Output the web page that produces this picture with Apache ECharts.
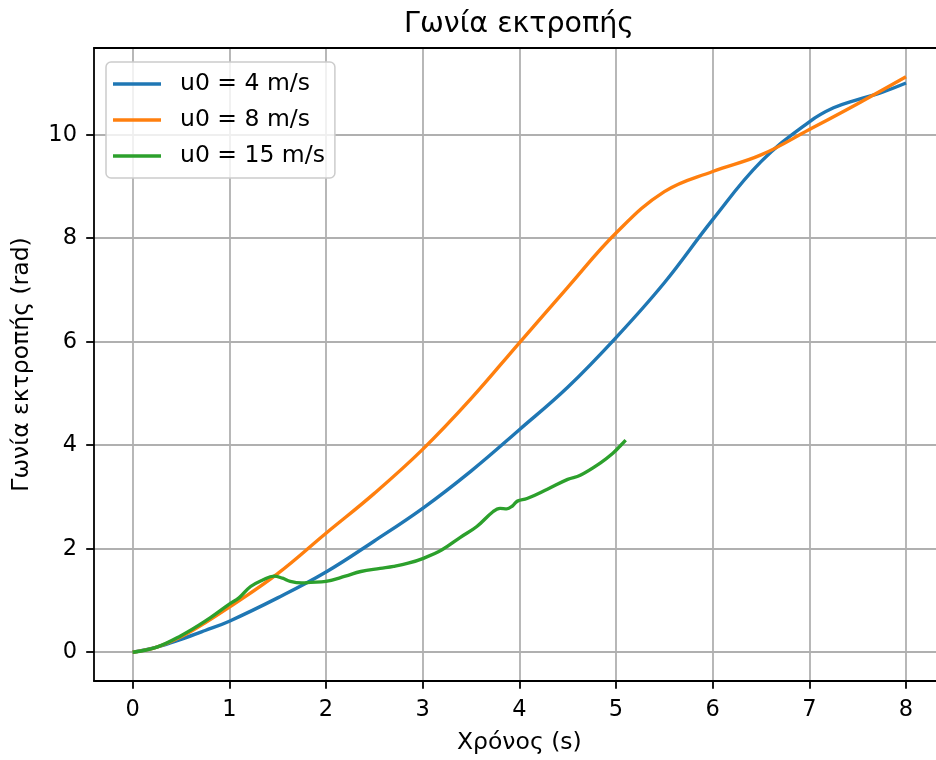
<!DOCTYPE html>
<html>
<head>
<meta charset="utf-8">
<script src="https://cdn.jsdelivr.net/npm/echarts@6/dist/echarts.min.js"></script>
<style>
  html, body { margin: 0; padding: 0; background: #ffffff; overflow: hidden; width: 936px; height: 760px; }
  #chart { width: 946px; height: 760px; }
</style>
</head>
<body>
<div id="chart"></div>
<script>
// Deflection angle vs time for three launch speeds
const titleText = 'Γωνία εκτροπής';
const xLabel = 'Χρόνος (s)';
const yLabel = 'Γωνία εκτροπής (rad)';

const seriesNames = ['u0 = 4 m/s', 'u0 = 8 m/s', 'u0 = 15 m/s'];

const tA = [0, 0.25, 0.5, 0.75, 1, 1.5, 2, 2.5, 3, 3.5, 4, 4.5, 5, 5.5, 6, 6.5, 7, 7.25, 7.5, 7.75, 8];
const angleA = [0, 0.1, 0.25, 0.42, 0.6, 1.05, 1.55, 2.15, 2.78, 3.5, 4.3, 5.12, 6.08, 7.14, 8.36, 9.48, 10.25, 10.52, 10.68, 10.82, 11.0];

const tB = [0, 0.25, 0.5, 0.75, 1, 1.5, 2, 2.5, 3, 3.5, 4, 4.5, 5, 5.5, 6, 6.5, 7, 7.5, 8];
const angleB = [0, 0.1, 0.3, 0.57, 0.87, 1.52, 2.3, 3.07, 3.92, 4.9, 5.98, 7.05, 8.1, 8.9, 9.29, 9.61, 10.1, 10.6, 11.12];

const tC = [0, 0.25, 0.5, 0.75, 1.0, 1.1, 1.22, 1.35, 1.46, 1.55, 1.63, 1.75, 1.84, 2.0, 2.2, 2.36, 2.56, 2.7, 2.85, 3.0, 3.2, 3.39, 3.56, 3.73, 3.8, 3.87, 3.93, 3.98, 4.08, 4.29, 4.5, 4.63, 4.84, 4.97, 5.04, 5.1];
const angleC = [0, 0.1, 0.32, 0.6, 0.93, 1.05, 1.27, 1.4, 1.47, 1.43, 1.37, 1.34, 1.35, 1.37, 1.47, 1.56, 1.62, 1.66, 1.72, 1.81, 1.98, 2.22, 2.43, 2.72, 2.78, 2.77, 2.83, 2.92, 2.97, 3.15, 3.34, 3.42, 3.66, 3.85, 3.98, 4.1];

const xTicks = [0, 1, 2, 3, 4, 5, 6, 7, 8];
const yTicks = [0, 2, 4, 6, 8, 10];

const colors = ['#1f77b4', '#ff7f0e', '#2ca02c'];
const FONT = "'DejaVu Sans', 'Noto Sans', sans-serif";

function pairs(xs, ys) {
  return xs.map((x, i) => [x, ys[i]]);
}

const chart = echarts.init(document.getElementById('chart'), null, { renderer: 'canvas' });

const lineW = 3.4;
const spine = { color: '#000000', width: 1.8 };

chart.setOption({
  animation: false,
  backgroundColor: '#ffffff',
  color: colors,
  graphic: [{
    type: 'text',
    x: 519,
    y: 25,
    style: {
      text: titleText,
      fill: '#000000',
      font: "28.5px 'DejaVu Sans', sans-serif",
      textAlign: 'center',
      textVerticalAlign: 'middle'
    }
  }],
  grid: {
    left: 94,
    top: 48,
    right: 1.3,
    bottom: 78,
    show: false
  },
  legend: {
    orient: 'vertical',
    left: 106,
    top: 62,
    data: seriesNames,
    icon: 'rect',
    itemWidth: 48,
    itemHeight: 3.4,
    itemGap: 12,
    padding: [10, 10, 10, 7],
    backgroundColor: 'rgba(255,255,255,0.8)',
    borderColor: '#cccccc',
    borderWidth: 1.5,
    borderRadius: 5,
    textStyle: {
      fontFamily: FONT,
      fontSize: 23.5,
      color: '#000000',
      padding: [0, 0, 0, 14]
    }
  },
  xAxis: [{
    type: 'value',
    min: -0.4,
    max: 8.4,
    name: xLabel,
    nameLocation: 'middle',
    nameGap: 50,
    nameTextStyle: { fontFamily: FONT, fontSize: 23.5, color: '#000000' },
    axisLine: { show: true, onZero: false, lineStyle: spine },
    axisTick: { show: true, length: 7.8, customValues: xTicks, lineStyle: spine },
    axisLabel: { customValues: xTicks, margin: 18, fontFamily: FONT, fontSize: 22.5, color: '#000000' },
    splitLine: { show: true, lineStyle: { color: '#b0b0b0', width: 1.8 } }
  }, {
    // top spine of the plot frame
    type: 'value',
    position: 'top',
    min: -0.4,
    max: 8.4,
    axisLine: { show: true, onZero: false, lineStyle: spine },
    axisTick: { show: false },
    axisLabel: { show: false },
    splitLine: { show: false }
  }],
  yAxis: {
    type: 'value',
    min: -0.556,
    max: 11.676,
    name: yLabel,
    nameLocation: 'middle',
    nameGap: 60,
    nameTextStyle: { fontFamily: FONT, fontSize: 23.5, color: '#000000' },
    axisLine: { show: true, onZero: false, lineStyle: spine },
    axisTick: { show: true, length: 7.8, customValues: yTicks, lineStyle: spine },
    axisLabel: { customValues: yTicks, margin: 17, fontFamily: FONT, fontSize: 22.5, color: '#000000' },
    splitLine: { show: true, lineStyle: { color: '#b0b0b0', width: 1.8 } }
  },
  series: [
    { name: seriesNames[0], type: 'line', data: pairs(tA, angleA), showSymbol: false, smooth: 0.4, lineStyle: { width: lineW, color: colors[0] }, itemStyle: { color: colors[0] } },
    { name: seriesNames[1], type: 'line', data: pairs(tB, angleB), showSymbol: false, smooth: 0.4, lineStyle: { width: lineW, color: colors[1] }, itemStyle: { color: colors[1] } },
    { name: seriesNames[2], type: 'line', data: pairs(tC, angleC), showSymbol: false, smooth: 0.4, lineStyle: { width: lineW, color: colors[2] }, itemStyle: { color: colors[2] } }
  ]
});
</script>
</body>
</html>
